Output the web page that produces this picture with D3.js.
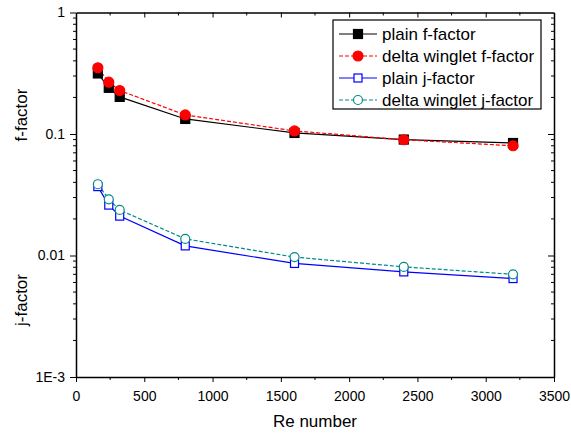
<!DOCTYPE html>
<html>
<head>
<meta charset="utf-8">
<script src="https://cdn.jsdelivr.net/npm/d3@7"></script>
<style>
  html, body { margin: 0; padding: 0; background: #fff; }
  svg { display: block; font-family: "Liberation Sans", Arial, sans-serif; }
</style>
</head>
<body>
<svg id="chart" width="571" height="434"></svg>
<script>
// Reynolds numbers tested
const reNumbers = [160, 240, 320, 800, 1600, 2400, 3200];

// Friction factor and Colburn j-factor, plain fin vs delta winglet
const plainF   = [0.315, 0.240, 0.202, 0.133, 0.102, 0.0900, 0.0843];
const wingletF = [0.351, 0.267, 0.228, 0.1435, 0.106, 0.0897, 0.0800];
const plainJ   = [0.0369, 0.0260, 0.0211, 0.0120, 0.0086, 0.00733, 0.00646];
const wingletJ = [0.0386, 0.0290, 0.0237, 0.0137, 0.0097, 0.00806, 0.00700];

const seriesNames = ["plain f-factor", "delta winglet f-factor", "plain j-factor", "delta winglet j-factor"];

const xTicks = [0, 500, 1000, 1500, 2000, 2500, 3000, 3500];
const yTicks = [1e-3, 0.01, 0.1, 1];
const yTickLabels = ["1E-3", "0.01", "0.1", "1"];

const svg = d3.select("#chart");
const plotLeft = 76, plotRight = 554, plotTop = 12.5, plotBottom = 377;

const x = d3.scaleLinear().domain([0, 3500]).range([plotLeft, plotRight]);
const y = d3.scaleLog().domain([1e-3, 1]).range([plotBottom, plotTop]);

const series = [
  { name: seriesNames[0], values: plainF,   color: "#000000", dash: null,  marker: "square", fill: true },
  { name: seriesNames[1], values: wingletF, color: "#ff0000", dash: "4,2", marker: "circle", fill: true },
  { name: seriesNames[2], values: plainJ,   color: "#0000ff", dash: null,  marker: "square", fill: false },
  { name: seriesNames[3], values: wingletJ, color: "#008b8b", dash: "4,2", marker: "circle", fill: false }
];

// minor ticks
const xMinor = d3.range(250, 3500, 500);
const yMinor = [];
[1e-3, 1e-2, 1e-1].forEach(d => { for (let k = 2; k <= 9; k++) yMinor.push(d * k); });

// axes: bottom & left with outward ticks, top & right mirrored inward
const axisG = svg.append("g");
const bAxis = d3.axisBottom(x).tickValues(xTicks).tickFormat(d3.format("d"))
  .tickSize(5).tickSizeOuter(0).tickPadding(9);
const gb = axisG.append("g").attr("transform", `translate(0,${plotBottom})`).call(bAxis);
gb.selectAll("text").attr("font-size", 14).attr("fill", "#000");
gb.append("g").selectAll("line").data(xMinor).join("line")
  .attr("x1", d => x(d)).attr("x2", d => x(d)).attr("y1", 0).attr("y2", 3).attr("stroke", "#000");

const lAxis = d3.axisLeft(y).tickValues(yTicks).tickFormat((d, i) => yTickLabels[i])
  .tickSize(6).tickSizeOuter(0).tickPadding(5);
const gl = axisG.append("g").attr("transform", `translate(${plotLeft},0)`).call(lAxis);
gl.selectAll("text").attr("font-size", 14).attr("fill", "#000");
gl.append("g").selectAll("line").data(yMinor).join("line")
  .attr("x1", -3).attr("x2", 0).attr("y1", d => y(d)).attr("y2", d => y(d)).attr("stroke", "#000");

const tAxis = d3.axisBottom(x).tickValues(xTicks.slice(1, -1)).tickSize(5).tickSizeOuter(0).tickFormat("");
const gt = axisG.append("g").attr("transform", `translate(0,${plotTop})`).call(tAxis);
gt.append("g").selectAll("line").data(xMinor).join("line")
  .attr("x1", d => x(d)).attr("x2", d => x(d)).attr("y1", 0).attr("y2", 3).attr("stroke", "#000");

const rAxis = d3.axisLeft(y).tickValues(yTicks.slice(1, -1)).tickSize(6).tickSizeOuter(0).tickFormat("");
const gr = axisG.append("g").attr("transform", `translate(${plotRight},0)`).call(rAxis);
gr.append("g").selectAll("line").data(yMinor).join("line")
  .attr("x1", -3).attr("x2", 0).attr("y1", d => y(d)).attr("y2", d => y(d)).attr("stroke", "#000");

axisG.selectAll(".domain").attr("stroke", "#000").attr("stroke-width", 1.5);

// axis titles
svg.append("text").attr("x", (plotLeft + plotRight) / 2).attr("y", 427).attr("text-anchor", "middle")
  .attr("font-size", 17).text("Re number");
svg.append("text").attr("transform", "translate(27,115) rotate(-90)").attr("text-anchor", "middle")
  .attr("font-size", 17).text("f-factor");
svg.append("text").attr("transform", "translate(27,300) rotate(-90)").attr("text-anchor", "middle")
  .attr("font-size", 17).text("j-factor");

// marker drawer
function drawMarker(g, s, cx, cy) {
  if (s.marker === "square") {
    const sz = s.fill ? 9 : 8;
    g.append("rect").attr("x", cx - sz / 2).attr("y", cy - sz / 2).attr("width", sz).attr("height", sz)
      .attr("fill", s.fill ? s.color : "#fff").attr("stroke", s.color).attr("stroke-width", 1.2);
  } else {
    g.append("circle").attr("cx", cx).attr("cy", cy).attr("r", s.fill ? 5 : 4.5)
      .attr("fill", s.fill ? s.color : "#fff").attr("stroke", s.color).attr("stroke-width", 1.2);
  }
}

const line = d3.line().x((d, i) => x(reNumbers[i])).y(d => y(d));
const plot = svg.append("g");
series.forEach(s => {
  plot.append("path").datum(s.values).attr("d", line).attr("fill", "none")
    .attr("stroke", s.color).attr("stroke-width", 1.2).attr("stroke-dasharray", s.dash);
});
series.forEach(s => {
  const g = plot.append("g");
  s.values.forEach((v, i) => drawMarker(g, s, x(reNumbers[i]), y(v)));
});

// legend
const lg = svg.append("g");
lg.append("rect").attr("x", 333).attr("y", 20).attr("width", 208).attr("height", 89)
  .attr("fill", "#fff").attr("stroke", "#000").attr("stroke-width", 1.2);
series.forEach((s, i) => {
  const ly = 34 + i * 22;
  lg.append("line").attr("x1", 339).attr("x2", 377).attr("y1", ly).attr("y2", ly)
    .attr("stroke", s.color).attr("stroke-width", 1.2).attr("stroke-dasharray", s.dash);
  drawMarker(lg, s, 358, ly);
  lg.append("text").attr("x", 382).attr("y", ly + 6).attr("font-size", 17).text(s.name);
});
</script>
</body>
</html>
